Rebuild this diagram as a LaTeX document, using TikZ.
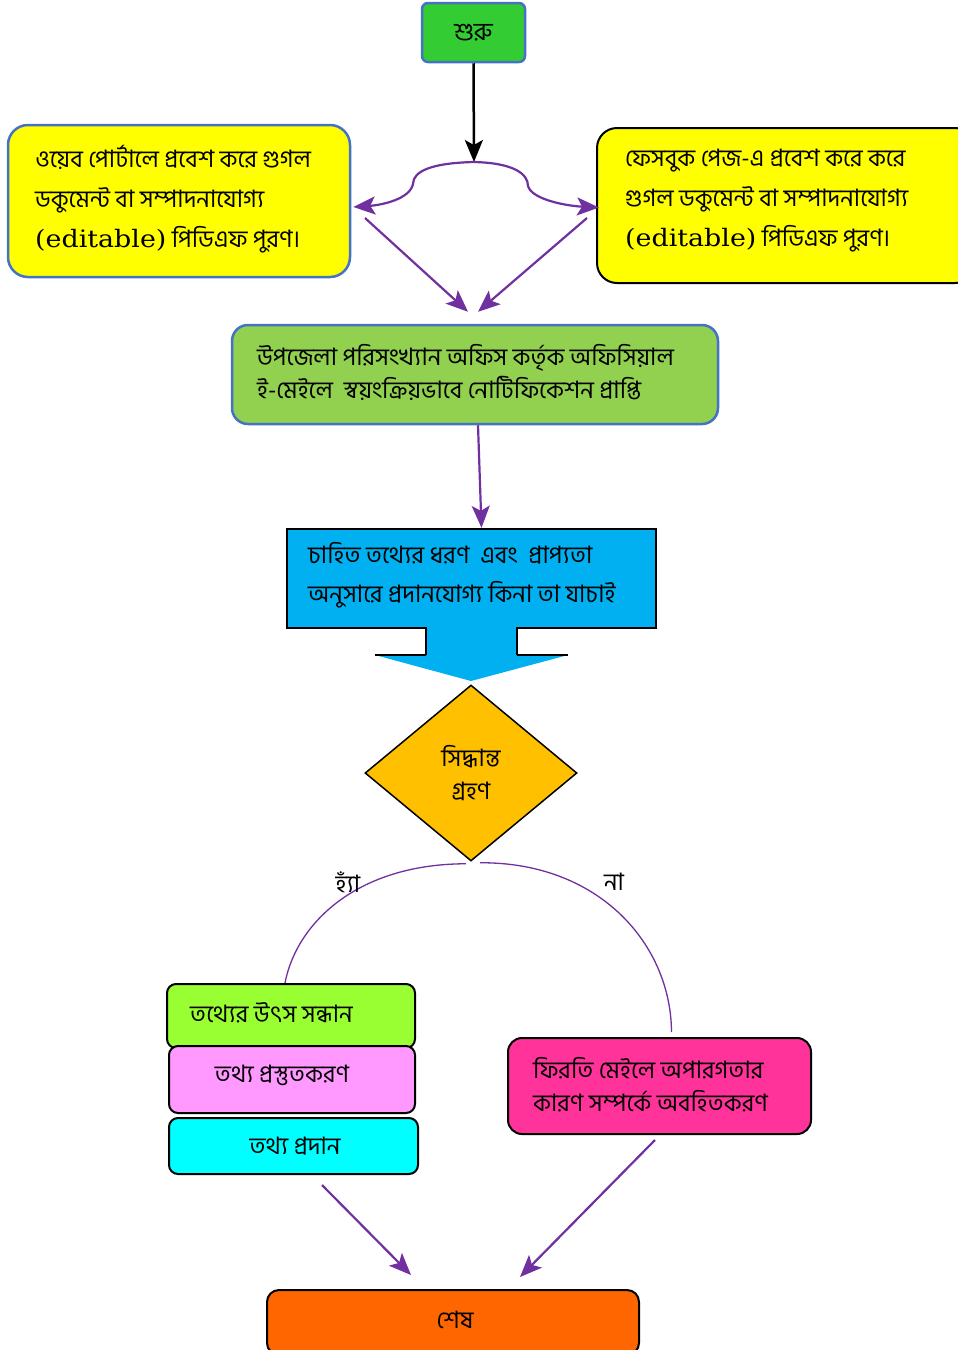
\documentclass[tikz,border=0pt]{standalone}
\usepackage{fontspec}
\newfontfamily\bn[Script=Bengali]{Hind Siliguri}
\newfontfamily\lat[FakeStretch=1.12]{DejaVu Serif}
\usetikzlibrary{arrows.meta,shapes.geometric,calc}
\definecolor{pur}{HTML}{7030A0}
\definecolor{bordblue}{HTML}{4472C4}
\definecolor{startgreen}{HTML}{33CC33}
\definecolor{ylw}{HTML}{FFFF00}
\definecolor{lgreen}{HTML}{92D050}
\definecolor{cblue}{HTML}{00B0F0}
\definecolor{amber}{HTML}{FFC000}
\definecolor{lime}{HTML}{99FF33}
\definecolor{lpink}{HTML}{FF99FF}
\definecolor{aqua}{HTML}{00FFFF}
\definecolor{hotpink}{HTML}{FF3399}
\definecolor{endorange}{HTML}{FF6600}
\newcommand{\edt}{{\lat\fontsize{24}{40}\selectfont (editable)}}
\tikzset{
  box/.style={draw, line width=2pt, rounded corners=9pt, inner sep=0pt},
  txt/.style={inner sep=0pt, align=left, font=\bn\fontsize{24}{40}\selectfont},
  tip/.style={-{Stealth[length=22pt,width=18pt,inset=5pt]}},
  parr/.style={draw=pur, line width=2.2pt, tip},
  arc/.style={draw=pur, line width=1.3pt},
}
\begin{document}
\begin{tikzpicture}[x=1pt,y=-1pt]
\useasboundingbox (0,0) rectangle (958,1350);
\clip (0,0) rectangle (958,1350);
% start
\node[box, draw=bordblue, line width=2.5pt, rounded corners=6pt, fill=startgreen, minimum width=103pt, minimum height=59pt] (start) at (473.5,32.5) {};
\node[txt, font=\bn\fontsize{25}{28}\selectfont] (startt) at (start.center) {শুরু};
\coordinate (split) at (474,162);
\draw[line width=2.5pt, tip] (start.south) -- (split);
% left and right boxes
\node[box, draw=bordblue, line width=2.5pt, rounded corners=20pt, fill=ylw, minimum width=342pt, minimum height=152pt] (web) at (179,201) {};
\node[txt, anchor=west] (webt) at (35,199) {ওয়েব পোর্টালে প্রবেশ করে গুগল\\ডকুমেন্ট বা সম্পাদনাযোগ্য\\\edt{} পিডিএফ পুরণ।};
\node[box, draw=black, rounded corners=20pt, fill=ylw, minimum width=378pt, minimum height=155pt] (fb) at (786,205.5) {};
\node[txt, anchor=west] (fbt) at (625,201) {ফেসবুক পেজ-এ প্রবেশ করে করে\\গুগল ডকুমেন্ট বা সম্পাদনাযোগ্য\\\edt{} পিডিএফ পুরণ।};
% brace split
\draw[parr] (split) .. controls (432,163) and (413,171) .. (413,184) .. controls (410,199) and (382,205) .. ($(web.east)+(2,6)$);
\draw[parr] (split) .. controls (514,163) and (528,174) .. (528,186) .. controls (532,200) and (568,206) .. ($(fb.west)+(3,2)$);
% green box
\node[box, draw=bordblue, line width=2.5pt, rounded corners=16pt, fill=lgreen, minimum width=486pt, minimum height=99pt] (notif) at (475,374.5) {};
\node[txt, anchor=west, font=\bn\fontsize{24}{33}\selectfont] (notift) at (257,372) {উপজেলা পরিসংখ্যান অফিস কর্তৃক অফিসিয়াল\\ই-মেইলে\ \ স্বয়ংক্রিয়ভাবে নোটিফিকেশন প্রাপ্তি};
\coordinate (a1) at (365,218);
\coordinate (a2) at (587,218);
\draw[parr] (a1) -- ($(notif.north)+(-7,-12)$);
\draw[parr] (a2) -- ($(notif.north)+(3,-12)$);
% callout
\node[inner sep=0pt, minimum width=369pt, minimum height=99pt] (chk) at (471.5,578.5) {};
\fill[cblue] (287,529) -- (656,529) -- (656,628) -- (517,628) -- (517,655) -- (568,655) -- (471,681) -- (375,655) -- (426,655) -- (426,628) -- (287,628) -- cycle;
\draw[line width=2pt] (426,655) -- (375,655);
\draw[line width=2pt] (517,655) -- (568,655);
\draw[line width=2pt] (426,655) -- (426,628) -- (287,628) -- (287,529) -- (656,529) -- (656,628) -- (517,628) -- (517,655);
\node[txt, anchor=west, font=\bn\fontsize{24}{39}\selectfont] (chkt) at (308,575) {চাহিত তথ্যের ধরণ\ \ এবং\ \ প্রাপ্যতা\\অনুসারে প্রদানযোগ্য কিনা তা যাচাই};
\draw[parr] ($(notif.south)+(3,0)$) -- ($(chk.north)+(10,-1)$);
% diamond
\node[diamond, draw, line width=1.5pt, fill=amber, minimum width=212pt, minimum height=176pt, inner sep=0pt, align=center, font=\bn\fontsize{24}{33}\selectfont] (dec) at (471,773) {সিদ্ধান্ত\\গ্রহণ};
% lower boxes
\node[box, fill=lime, minimum width=248pt, minimum height=64pt] (src) at (291,1016) {};
\node[box, fill=lpink, minimum width=246pt, minimum height=67pt] (prep) at (292,1079.5) {};
\node[box, fill=aqua, minimum width=249pt, minimum height=56pt] (give) at (293.5,1146) {};
\node[txt, anchor=west] (srct) at (190,1013) {তথ্যের উৎস সন্ধান};
\node[txt] (prept) at (282,1075) {তথ্য প্রস্তুতকরণ};
\node[txt] (givet) at (295,1146) {তথ্য প্রদান};
\node[box, rounded corners=14pt, fill=hotpink, minimum width=303pt, minimum height=96pt] (fail) at (659.5,1086) {};
\node[txt, anchor=west, font=\bn\fontsize{24}{33}\selectfont] (failt) at (533,1085) {ফিরতি মেইলে অপারগতার\\কারণ সম্পর্কে অবহিতকরণ};
% arcs
\draw[arc] ($(dec.south)+(-5,2)$) .. controls (355,864) and (296,925) .. ($(src.north)+(-6,0)$);
\draw[arc] ($(dec.south)+(9,1)$) .. controls (600,862) and (671,945) .. ($(fail.north)+(12,-5)$);
\node[txt] (yes) at (348,882) {হ্যাঁ};
\node[txt] (no) at (614,882) {না};
% end
\node[box, rounded corners=12pt, fill=endorange, minimum width=372pt, minimum height=65pt] (end) at (453,1322.5) {};
\node[txt] (endt) at (455,1320) {শেষ};
\coordinate (b1) at (322,1185);
\coordinate (b2) at (655,1140);
\draw[parr] (b1) -- ($(end.north)+(-42,-14)$);
\draw[parr] (b2) -- ($(end.north)+(67,-12)$);
\end{tikzpicture}
\end{document}
